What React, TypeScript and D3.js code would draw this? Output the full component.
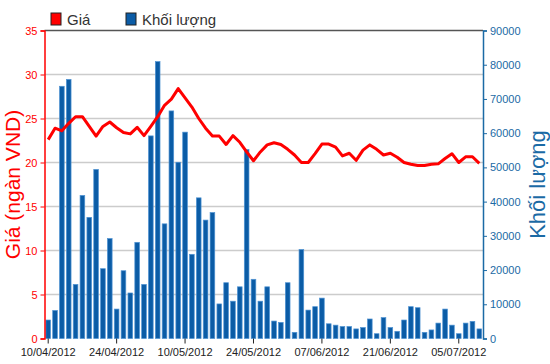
import React, { useRef, useEffect } from "react";
import * as d3 from "d3";

// trading days (30/04 and 01/05 are holidays)
const dates: string[] = [
  "10/04/2012", "11/04/2012", "12/04/2012", "13/04/2012", "16/04/2012",
  "17/04/2012", "18/04/2012", "19/04/2012", "20/04/2012", "23/04/2012",
  "24/04/2012", "25/04/2012", "26/04/2012", "27/04/2012", "02/05/2012",
  "03/05/2012", "04/05/2012", "07/05/2012", "08/05/2012", "09/05/2012",
  "10/05/2012", "11/05/2012", "14/05/2012", "15/05/2012", "16/05/2012",
  "17/05/2012", "18/05/2012", "21/05/2012", "22/05/2012", "23/05/2012",
  "24/05/2012", "25/05/2012", "28/05/2012", "29/05/2012", "30/05/2012",
  "31/05/2012", "01/06/2012", "04/06/2012", "05/06/2012", "06/06/2012",
  "07/06/2012", "08/06/2012", "11/06/2012", "12/06/2012", "13/06/2012",
  "14/06/2012", "15/06/2012", "18/06/2012", "19/06/2012", "20/06/2012",
  "21/06/2012", "22/06/2012", "25/06/2012", "26/06/2012", "27/06/2012",
  "28/06/2012", "29/06/2012", "02/07/2012", "03/07/2012", "04/07/2012",
  "05/07/2012", "06/07/2012", "09/07/2012", "10/07/2012",
];

// Giá (ngàn VND)
const prices: number[] = [
  22.6, 23.9, 23.6, 24.45, 25.2, 25.2, 24.1, 23.0, 24.1, 24.6,
  23.95, 23.4, 23.25, 24.0, 23.05, 24.1, 25.2, 26.5, 27.2, 28.4,
  27.35, 26.3, 25.0, 23.9, 23.0, 23.0, 22.05, 23.05, 22.3, 21.2,
  20.2, 21.2, 22.0, 22.25, 22.05, 21.5, 20.85, 20.0, 20.0, 21.0,
  22.1, 22.1, 21.75, 20.75, 21.05, 20.25, 21.4, 22.0, 21.5, 20.85,
  21.05, 20.6, 20.0, 19.8, 19.65, 19.65, 19.8, 19.85, 20.45, 21.0,
  20.0, 20.65, 20.65, 19.9,
];

// Khối lượng
const volumes: number[] = [
  5400, 8200, 73700, 75700, 15800, 41800, 35400, 49400, 20400, 29200,
  8600, 19800, 13300, 28100, 15800, 59200, 80900, 33500, 66500, 51500,
  60300, 24600, 41100, 34600, 36800, 10100, 16300, 10900, 15100, 55200,
  17300, 10900, 15100, 5100, 4700, 16300, 1800, 26000, 8300, 9300,
  11800, 4300, 3900, 3500, 3500, 2800, 3200, 5700, 1400, 6100,
  3200, 2100, 5400, 9300, 9000, 1800, 2500, 4500, 8600, 3900,
  1400, 4500, 5000, 2800,
];

const priceTicks: number[] = [0, 5, 10, 15, 20, 25, 30, 35];
const volumeTicks: number[] = [0, 10000, 20000, 30000, 40000, 50000, 60000, 70000, 80000, 90000];

const RED = "#ff0000";
const BLUE = "#1b6aa5";
const FONT = "'Liberation Sans', Arial, sans-serif";

const App = () => {
  const ref = useRef<SVGSVGElement | null>(null);

  useEffect(() => {
    const width = 550;
    const height = 364;
    const margin = { top: 30.5, right: 67, bottom: 25.5, left: 44.5 };

    const svg = d3.select(ref.current);
    svg.selectAll("*").remove();

    const x = d3
      .scaleBand<string>()
      .domain(dates)
      .range([margin.left, width - margin.right])
      .paddingInner(0.32)
      .paddingOuter(0.2);

    const yPrice = d3
      .scaleLinear()
      .domain([0, 35])
      .range([height - margin.bottom, margin.top]);

    const yVol = d3
      .scaleLinear()
      .domain([0, 90000])
      .range([height - margin.bottom, margin.top]);

    // grid
    svg
      .append("g")
      .selectAll("line")
      .data(priceTicks.filter((t) => t > 0 && t < 35))
      .join("line")
      .attr("x1", margin.left)
      .attr("x2", width - margin.right)
      .attr("y1", (d) => yPrice(d))
      .attr("y2", (d) => yPrice(d))
      .attr("stroke", "#cccccc")
      .attr("stroke-width", 1.6);

    svg
      .append("line")
      .attr("x1", margin.left)
      .attr("x2", width - margin.right)
      .attr("y1", yPrice(35))
      .attr("y2", yPrice(35))
      .attr("stroke", "#555")
      .attr("stroke-width", 1.4);

    // bars
    svg
      .append("g")
      .selectAll("rect")
      .data(volumes)
      .join("rect")
      .attr("x", (d, i) => x(dates[i]) as number)
      .attr("y", (d) => yVol(d))
      .attr("width", x.bandwidth())
      .attr("height", (d) => yVol(0) - yVol(d))
      .attr("fill", "#0b5ca6")
      .attr("stroke", "#4f93d3")
      .attr("stroke-width", 0.7);

    // price line
    const line = d3
      .line<number>()
      .x((d, i) => (x(dates[i]) as number) + x.bandwidth() / 2)
      .y((d) => yPrice(d));

    svg
      .append("path")
      .datum(prices)
      .attr("d", line)
      .attr("fill", "none")
      .attr("stroke", RED)
      .attr("stroke-width", 3)
      .attr("stroke-linejoin", "round");

    // left axis
    const left = svg
      .append("g")
      .attr("transform", `translate(${margin.left},0)`)
      .call(d3.axisLeft(yPrice).tickValues(priceTicks).tickSize(4).tickPadding(3));
    left.select(".domain").attr("stroke", RED).attr("stroke-width", 1.5);
    left.selectAll(".tick line").attr("stroke", RED);
    left
      .selectAll(".tick text")
      .attr("fill", RED)
      .attr("font-family", FONT)
      .attr("font-size", 11);

    // right axis
    const right = svg
      .append("g")
      .attr("transform", `translate(${width - margin.right},0)`)
      .call(d3.axisRight(yVol).tickValues(volumeTicks).tickFormat(d3.format("d")).tickSize(4).tickPadding(3));
    right.select(".domain").attr("stroke", BLUE).attr("stroke-width", 1.5);
    right.selectAll(".tick line").attr("stroke", BLUE);
    right
      .selectAll(".tick text")
      .attr("fill", BLUE)
      .attr("font-family", FONT)
      .attr("font-size", 11);

    // bottom axis
    const bottom = svg
      .append("g")
      .attr("transform", `translate(0,${height - margin.bottom})`)
      .call(
        d3
          .axisBottom(x)
          .tickValues(dates.filter((d, i) => i % 10 === 0))
          .tickSize(5)
          .tickPadding(5)
      );
    bottom.select(".domain").remove();
    bottom.selectAll(".tick line").attr("stroke", "#222");
    bottom
      .selectAll(".tick text")
      .attr("fill", "#222")
      .attr("font-family", FONT)
      .attr("font-size", 11);

    // axis titles
    svg
      .append("text")
      .attr("transform", `translate(20,${(margin.top + height - margin.bottom) / 2}) rotate(-90)`)
      .attr("text-anchor", "middle")
      .attr("font-family", FONT)
      .attr("font-size", 21)
      .attr("fill", RED)
      .text("Giá (ngàn VND)");

    svg
      .append("text")
      .attr("transform", `translate(545,${(margin.top + height - margin.bottom) / 2}) rotate(-90)`)
      .attr("text-anchor", "middle")
      .attr("font-family", FONT)
      .attr("font-size", 22)
      .attr("fill", BLUE)
      .text("Khối lượng");

    // legend
    const legend = [
      { name: "Giá", color: RED, x: 51 },
      { name: "Khối lượng", color: "#0b5ca6", x: 126 },
    ];
    const lg = svg
      .append("g")
      .selectAll("g")
      .data(legend)
      .join("g")
      .attr("transform", (d) => `translate(${d.x},13)`);
    lg.append("rect")
      .attr("width", 10)
      .attr("height", 12)
      .attr("fill", (d) => d.color)
      .attr("stroke", "#222")
      .attr("stroke-width", 1);
    lg.append("text")
      .attr("x", 16)
      .attr("y", 12)
      .attr("font-family", FONT)
      .attr("font-size", 15)
      .attr("fill", "#333")
      .text((d) => d.name);
  }, []);

  return (
    <svg
      ref={ref}
      width={550}
      height={364}
      style={{ position: "absolute", left: 0, top: 0, background: "#fff" }}
    />
  );
};

export default App;
